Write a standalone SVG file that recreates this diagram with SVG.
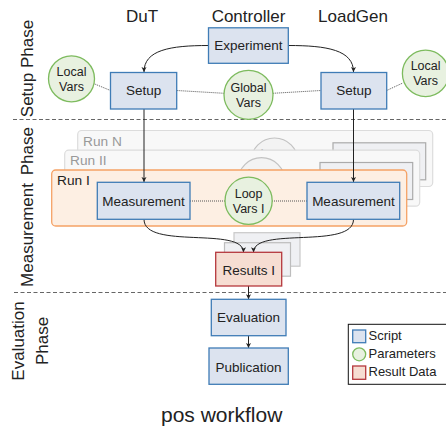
<svg xmlns="http://www.w3.org/2000/svg" width="446" height="426" viewBox="0 0 446 426">
<style>
text{font-family:"Liberation Sans",Arial,sans-serif;fill:#222}
.title{font-size:17px;text-anchor:middle}
.phase{font-size:17px;text-anchor:middle}
.lbl{font-size:13.5px;text-anchor:middle}
.clbl{font-size:12.5px;text-anchor:middle}
.leg{font-size:13px}
.script{fill:#dce3ef;stroke:#3f7cb6;stroke-width:1.3}
.param{fill:#e8f1e0;stroke:#7dbb5e;stroke-width:1.3}
.result{fill:#f6ddd2;stroke:#b5383d;stroke-width:1.3}
.run{fill:#fdefe3;stroke:#f5a266;stroke-width:1.3}
.grun{fill:#f8f8f8;stroke:#dcdcdc;stroke-width:1.2}
.gbox{fill:#eff0f3;stroke:#ababab;stroke-width:1.2}
.gcirc{fill:#f3f3f3;stroke:#c2c2c2;stroke-width:1.2}
.gtxt{fill:#999}
.conn{fill:none;stroke:#222;stroke-width:1}
.dot{fill:none;stroke:#555;stroke-width:1;stroke-dasharray:1 1}
.dash{fill:none;stroke:#666;stroke-width:1.2;stroke-dasharray:4 2.5}
</style>
<defs>
<marker id="ah" markerUnits="userSpaceOnUse" markerWidth="6" markerHeight="6" refX="5" refY="2.5" orient="auto">
<path d="M0,0 L5,2.5 L0,5 L1.2,2.5 z" fill="#222"/>
</marker>
</defs>

<!-- column titles -->
<text class="title" x="142" y="22">DuT</text>
<text class="title" x="248.5" y="22">Controller</text>
<text class="title" x="353" y="22">LoadGen</text>

<!-- phase labels -->
<text class="phase" transform="translate(33,68.5) rotate(-90)">Setup Phase</text>
<text class="phase" transform="translate(33,207) rotate(-90)" style="word-spacing:3px">Measurement Phase</text>
<text class="phase" transform="translate(23.5,341) rotate(-90)">Evaluation</text>
<text class="phase" transform="translate(48,341) rotate(-90)">Phase</text>

<!-- phase separators -->
<line class="dash" x1="13" y1="119.5" x2="446" y2="119.5"/>
<line class="dash" x1="14" y1="292.5" x2="446" y2="292.5"/>

<!-- ghost runs -->
<g id="run-n" transform="translate(26,-39.5)">
<rect class="grun" x="51.7" y="170" width="355" height="56" rx="4"/>
<text class="gtxt" x="57" y="185" style="font-size:13.7px">Run N</text>
<circle class="gcirc" cx="248.5" cy="201" r="23.5"/>
<text class="clbl gtxt" x="248.5" y="197.7">Loop</text>
<rect class="gbox" x="307" y="182.3" width="92.7" height="37"/>
</g>
<g id="run-ii" transform="translate(13,-19.8)">
<rect class="grun" x="51.7" y="170" width="355" height="56" rx="4"/>
<text class="gtxt" x="57" y="185" style="font-size:13.7px">Run II</text>
<circle class="gcirc" cx="248.5" cy="201" r="23.5"/>
<text class="clbl gtxt" x="248.5" y="197.7">Loop</text>
<rect class="gbox" x="307" y="182.3" width="92.7" height="37"/>
</g>
<g id="run-i">
<rect class="run" x="51.7" y="170" width="355" height="56" rx="4"/>
<text x="57" y="185" style="font-size:13.7px">Run I</text>
</g>

<!-- ghost results -->
<g id="results-ghost">
<rect class="gbox" x="234" y="232.7" width="66" height="33.5" style="stroke:#c8c8c8"/>
<rect class="gbox" x="224.5" y="242.7" width="66" height="33.5" style="stroke:#bdbdbd"/>
</g>

<!-- connectors -->
<g id="connectors">
<path class="conn" d="M208.5,45.5 C170,45.5 144,50 144,72" marker-end="url(#ah)"/>
<path class="conn" d="M288.3,45.5 C327,45.5 353.5,50 353.5,72" marker-end="url(#ah)"/>
<path class="conn" d="M144,109 L144,182" marker-end="url(#ah)"/>
<path class="conn" d="M353.5,109 L353.5,182" marker-end="url(#ah)"/>
<path class="conn" d="M144,219.3 C144,250 243.5,226 243.5,252.3" marker-end="url(#ah)"/>
<path class="conn" d="M353.5,219.3 C353.5,250 253.5,226 253.5,252.3" marker-end="url(#ah)"/>
<path class="conn" d="M248.5,286 L248.5,299.3" marker-end="url(#ah)"/>
<path class="conn" d="M248.5,335.7 L248.5,348" marker-end="url(#ah)"/>
<line class="dot" x1="93.5" y1="83.5" x2="110.5" y2="90.5"/>
<line class="dot" x1="176.7" y1="90.5" x2="224.2" y2="93.3"/>
<line class="dot" x1="272.8" y1="93.3" x2="321" y2="90.5"/>
<line class="dot" x1="386.7" y1="90.5" x2="402.8" y2="83"/>
<line class="dot" x1="190" y1="201" x2="225" y2="201"/>
<line class="dot" x1="272" y1="201" x2="307" y2="201"/>
</g>

<!-- nodes -->
<g id="experiment">
<rect class="script" x="208.5" y="27.8" width="79.8" height="35.5"/>
<text class="lbl" x="248.4" y="50">Experiment</text>
</g>
<g id="setup-dut">
<rect class="script" x="110.5" y="72.5" width="66.2" height="36.5"/>
<text class="lbl" x="143.6" y="95.3">Setup</text>
</g>
<g id="setup-loadgen">
<rect class="script" x="321" y="72.5" width="65.7" height="36.5"/>
<text class="lbl" x="353.8" y="95.3">Setup</text>
</g>
<g id="local-vars-dut">
<circle class="param" cx="71.5" cy="78.8" r="23"/>
<text class="clbl" x="71.5" y="75.5">Local</text>
<text class="clbl" x="71.5" y="90.5">Vars</text>
</g>
<g id="local-vars-loadgen">
<circle class="param" cx="425.6" cy="73.4" r="23.2"/>
<text class="clbl" x="425.6" y="70">Local</text>
<text class="clbl" x="425.6" y="85">Vars</text>
</g>
<g id="global-vars">
<circle class="param" cx="248.5" cy="94.8" r="24.5"/>
<text class="clbl" x="248.5" y="91.7">Global</text>
<text class="clbl" x="248.5" y="106.7">Vars</text>
</g>
<g id="measurement-dut">
<rect class="script" x="97.3" y="182.3" width="92.7" height="37"/>
<text class="lbl" x="143.6" y="205.8">Measurement</text>
</g>
<g id="measurement-loadgen">
<rect class="script" x="307" y="182.3" width="92.7" height="37"/>
<text class="lbl" x="353.4" y="205.8">Measurement</text>
</g>
<g id="loop-vars">
<circle class="param" cx="248.6" cy="200.8" r="23.6"/>
<text class="clbl" x="248.6" y="197.7">Loop</text>
<text class="clbl" x="248.6" y="212.7">Vars I</text>
</g>
<g id="results">
<rect class="result" x="215.7" y="252.3" width="66" height="33.7"/>
<text class="lbl" x="248.7" y="274.5">Results I</text>
</g>
<g id="evaluation">
<rect class="script" x="211.3" y="299.3" width="74.7" height="36.4"/>
<text class="lbl" x="248.6" y="321.8">Evaluation</text>
</g>
<g id="publication">
<rect class="script" x="209" y="348" width="79.3" height="36.3"/>
<text class="lbl" x="248.6" y="371.5">Publication</text>
</g>

<!-- legend -->
<g id="legend">
<rect x="348.3" y="324.3" width="100" height="60" fill="#fff" stroke="#111" stroke-width="1"/>
<rect class="script" x="352.7" y="330" width="13" height="12.7"/>
<text class="leg" x="368.5" y="340.3">Script</text>
<circle class="param" cx="359.2" cy="354.3" r="6.5"/>
<text class="leg" x="368.5" y="358">Parameters</text>
<rect class="result" x="352.7" y="366" width="13" height="13.3"/>
<text class="leg" x="368.5" y="375.8">Result Data</text>
</g>

<text x="221.7" y="421.5" style="font-size:21px;text-anchor:middle">pos workflow</text>
</svg>
